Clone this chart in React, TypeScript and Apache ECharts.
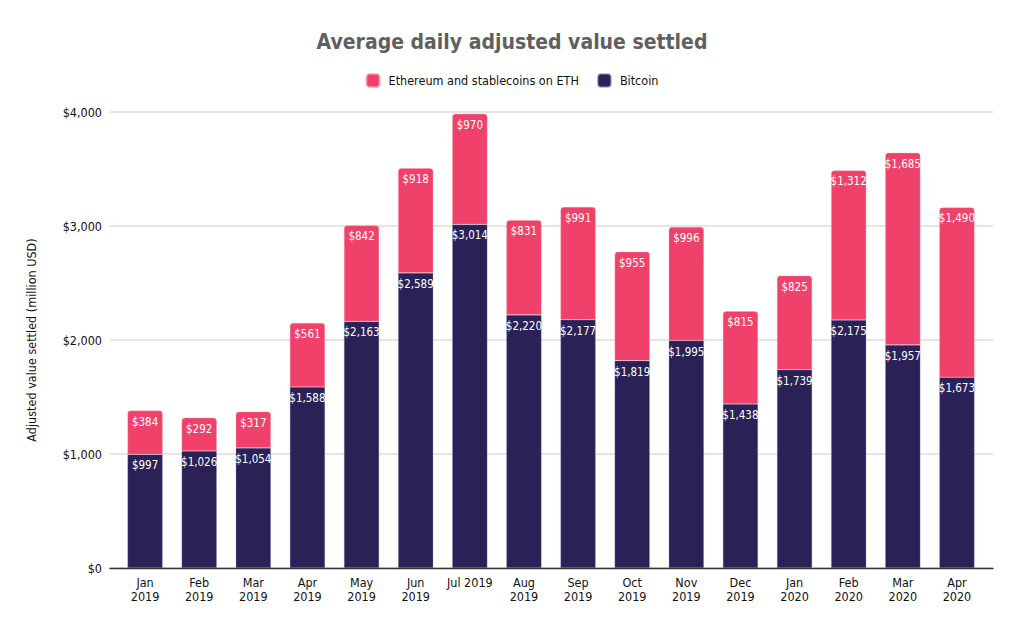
import React, { useEffect, useRef } from "react";
import * as echarts from "echarts";

const categories = [
  "Jan\n2019", "Feb\n2019", "Mar\n2019", "Apr\n2019", "May\n2019", "Jun\n2019",
  "Jul 2019", "Aug\n2019", "Sep\n2019", "Oct\n2019", "Nov\n2019", "Dec\n2019",
  "Jan\n2020", "Feb\n2020", "Mar\n2020", "Apr\n2020",
];
const bitcoin = [997, 1026, 1054, 1588, 2163, 2589, 3014, 2220, 2177, 1819, 1995, 1438, 1739, 2175, 1957, 1673];
const ethereum = [384, 292, 317, 561, 842, 918, 970, 831, 991, 955, 996, 815, 825, 1312, 1685, 1490];
const yTicks = { min: 0, max: 4000, interval: 1000 };

const FONT = "'DejaVu Sans Condensed', 'DejaVu Sans', sans-serif";
const PINK = "#EF4169";
const NAVY = "#2A2157";
const TEXT = "#111111";

const fmt = (v: number) => "$" + v.toLocaleString("en-US");

export default function App() {
  const ref = useRef<HTMLDivElement>(null);
  useEffect(() => {
    document.body.style.margin = "0";
    const chart = echarts.init(ref.current!, undefined, { renderer: "svg" });
    chart.setOption({
      animation: false,
      backgroundColor: "#ffffff",
      textStyle: { fontFamily: FONT },
      title: {
        text: "Average daily adjusted value settled",
        left: "center",
        top: 26,
        textStyle: { fontFamily: FONT, fontSize: 21, fontWeight: "bold", color: "#5f5f5f" },
      },
      legend: {
        top: 68,
        left: "center",
        itemWidth: 13,
        itemHeight: 13,
        itemGap: 18,
        icon: "roundRect",
        data: ["Ethereum and stablecoins on ETH", "Bitcoin"],
        textStyle: { fontFamily: FONT, fontSize: 12.5, color: TEXT, padding: [0, 0, 0, 4] },
      },
      grid: [
        { left: 110, right: 31, top: 112, bottom: 62 },
        { left: 118, right: 40, top: 112, bottom: 62 },
      ],
      xAxis: [
        {
          gridIndex: 0,
          type: "value",
          min: 0,
          max: 1,
          axisLine: { show: true, onZero: false, lineStyle: { color: "#333333", width: 1.3 } },
          axisTick: { show: false },
          axisLabel: { show: false },
          splitLine: { show: false },
        },
        {
          gridIndex: 1,
          type: "category",
          data: categories,
          axisLine: { show: false },
          axisTick: { show: false },
          axisLabel: {
            fontFamily: FONT,
            fontSize: 12.5,
            color: TEXT,
            margin: 7,
            lineHeight: 14,
            interval: 0,
          },
        },
      ],
      yAxis: [
        {
          gridIndex: 0,
          type: "value",
          min: yTicks.min,
          max: yTicks.max,
          interval: yTicks.interval,
          name: "Adjusted value settled (million USD)",
          nameLocation: "middle",
          nameGap: 72,
          nameTextStyle: { fontFamily: FONT, fontSize: 12.5, color: TEXT },
          axisLine: { show: false },
          axisTick: { show: false },
          axisLabel: {
            fontFamily: FONT,
            fontSize: 12.5,
            color: TEXT,
            margin: 8,
            formatter: (v: number) => fmt(v),
          },
          splitLine: { lineStyle: { color: "#dddddd", width: 1.5 } },
        },
        {
          gridIndex: 1,
          type: "value",
          min: yTicks.min,
          max: yTicks.max,
          interval: yTicks.interval,
          show: false,
          splitLine: { show: false },
        },
      ],
      series: [
        {
          name: "Bitcoin",
          type: "bar",
          stack: "total",
          xAxisIndex: 1,
          yAxisIndex: 1,
          data: bitcoin,
          barWidth: "65%",
          itemStyle: { color: NAVY, borderColor: "rgba(140,130,190,0.5)", borderWidth: 0.6 },
          label: {
            show: true,
            position: "insideTop",
            distance: 5,
            color: "#ffffff",
            fontFamily: FONT,
            fontSize: 11.5,
            formatter: (p: any) => fmt(p.value),
          },
        },
        {
          name: "Ethereum and stablecoins on ETH",
          type: "bar",
          stack: "total",
          xAxisIndex: 1,
          yAxisIndex: 1,
          data: ethereum,
          barWidth: "65%",
          itemStyle: {
            color: PINK,
            borderRadius: [3, 3, 0, 0],
            borderColor: "rgba(255,150,170,0.6)",
            borderWidth: 0.6,
          },
          label: {
            show: true,
            position: "insideTop",
            distance: 5,
            color: "#ffffff",
            fontFamily: FONT,
            fontSize: 11.5,
            formatter: (p: any) => fmt(p.value),
          },
        },
      ],
    });
    return () => chart.dispose();
  }, []);
  return <div ref={ref} style={{ width: 1024, height: 630 }} />;
}
